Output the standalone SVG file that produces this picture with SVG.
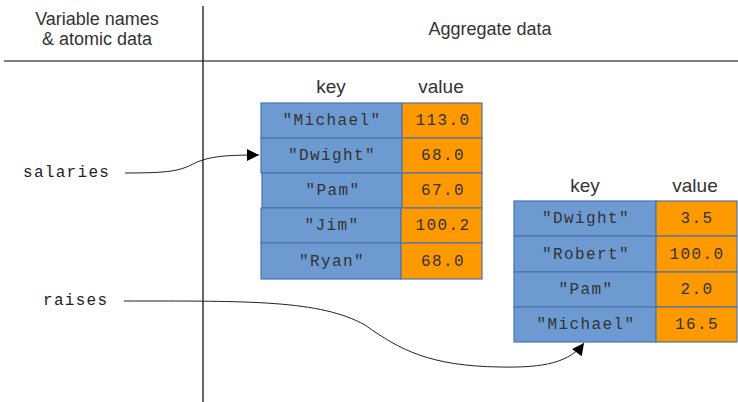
<svg xmlns="http://www.w3.org/2000/svg" width="738" height="402" viewBox="0 0 738 402">
<defs>
<marker id="ah" viewBox="0 0 10 10" refX="10" refY="5" markerWidth="14" markerHeight="12" markerUnits="userSpaceOnUse" orient="auto"><path d="M0,0 L10,5 L0,10 z" fill="#000"/></marker>
<style>
.hdr{font-family:"Liberation Sans",Arial,sans-serif;font-size:18px;fill:#333;text-anchor:middle}
.col{font-family:"Liberation Sans",Arial,sans-serif;font-size:19px;fill:#333;text-anchor:middle}
.k{fill:#6d9bd1;stroke:#4a76ad;stroke-width:1.2}
.v{fill:#ff9900;stroke:#4a76ad;stroke-width:1.2}
.mono{font-family:"Liberation Mono","Courier New",monospace;font-size:16px;letter-spacing:1.4px;fill:#333;text-anchor:middle}
.var{font-family:"Liberation Mono","Courier New",monospace;font-size:16px;letter-spacing:1.3px;fill:#222}
.conn{fill:none;stroke:#222;stroke-width:1}
</style>
</defs>
<rect width="738" height="402" fill="#fff"/>
<g id="header">
<line x1="4" y1="61" x2="738" y2="61" stroke="#000" stroke-width="1.2"/>
<line x1="203" y1="6" x2="203" y2="402" stroke="#000" stroke-width="1.2"/>
<text class="hdr" x="97" y="25">Variable names</text>
<text class="hdr" x="97" y="45">&amp; atomic data</text>
<text class="hdr" x="490" y="35">Aggregate data</text>
</g>
<g id="var-salaries"><text class="var" x="23" y="177">salaries</text></g>
<g id="var-raises"><text class="var" x="43" y="305">raises</text></g>
<g id="table-salaries">
<text class="col" x="331" y="93">key</text>
<text class="col" x="441" y="93">value</text>
<rect class="k" x="261" y="103" width="141" height="35"/><rect class="v" x="402" y="103" width="80" height="35"/>
<text class="mono" x="332" y="125">"Michael"</text><text class="mono" x="443" y="125">113.0</text>
<rect class="k" x="261" y="138" width="141" height="35"/><rect class="v" x="402" y="138" width="80" height="35"/>
<text class="mono" x="332" y="160">"Dwight"</text><text class="mono" x="443" y="160">68.0</text>
<rect class="k" x="262" y="173" width="140" height="35"/><rect class="v" x="402" y="173" width="80" height="35"/>
<text class="mono" x="333" y="195">"Pam"</text><text class="mono" x="443" y="195">67.0</text>
<rect class="k" x="261" y="208" width="140" height="35"/><rect class="v" x="401" y="208" width="81" height="35"/>
<text class="mono" x="332" y="230">"Jim"</text><text class="mono" x="443" y="230">100.2</text>
<rect class="k" x="261" y="243" width="140" height="36"/><rect class="v" x="401" y="243" width="81" height="36"/>
<text class="mono" x="332" y="266">"Ryan"</text><text class="mono" x="443" y="266">68.0</text>
</g>
<g id="table-raises">
<text class="col" x="585" y="192">key</text>
<text class="col" x="695" y="192">value</text>
<rect class="k" x="514" y="201" width="142" height="35"/><rect class="v" x="656" y="201" width="81" height="35"/>
<text class="mono" x="586" y="223">"Dwight"</text><text class="mono" x="697" y="223">3.5</text>
<rect class="k" x="514" y="236" width="142" height="36"/><rect class="v" x="656" y="236" width="81" height="36"/>
<text class="mono" x="586" y="259">"Robert"</text><text class="mono" x="697" y="259">100.0</text>
<rect class="k" x="514" y="272" width="142" height="35"/><rect class="v" x="656" y="272" width="81" height="35"/>
<text class="mono" x="586" y="294">"Pam"</text><text class="mono" x="697" y="294">2.0</text>
<rect class="k" x="514" y="307" width="142" height="35"/><rect class="v" x="656" y="307" width="81" height="35"/>
<text class="mono" x="586" y="329">"Michael"</text><text class="mono" x="697" y="329">16.5</text>
</g>
<g id="connectors">
<path class="conn" d="M125,173 C170,173 180,171 195,163 C210,156 228,155 259,155" marker-end="url(#ah)"/>
<path class="conn" d="M124,301 C250,301 320,300 365,325 C400,350 430,366 500,367 C545,368 570,362 584,343" marker-end="url(#ah)"/>
</g>
</svg>
